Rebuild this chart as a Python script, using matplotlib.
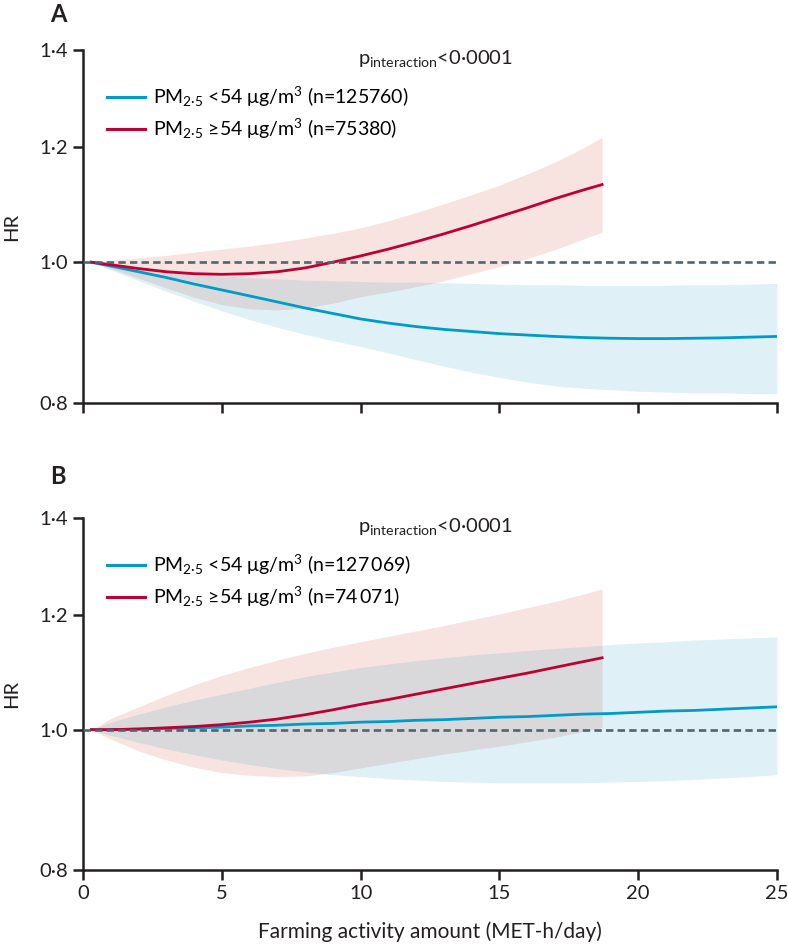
import matplotlib
matplotlib.use("Agg")
import matplotlib.pyplot as plt
import numpy as np

plt.rcParams["font.family"] = ["Lato", "DejaVu Sans"]
plt.rcParams["mathtext.fontset"] = "custom"
plt.rcParams["mathtext.rm"] = "Lato"
plt.rcParams["mathtext.it"] = "Lato:italic"
plt.rcParams["mathtext.bf"] = "Lato:bold"

# ---- data ----
x_low = [0.3, 1, 2, 3, 4, 5, 6, 7, 8, 9, 10, 11, 12, 13, 14, 15, 16, 17, 18,
         19, 20, 21, 22, 23, 24, 25]
x_high = [0.3, 1, 2, 3, 4, 5, 6, 7, 8, 9, 10, 11, 12, 13, 14, 15, 16, 17, 18, 18.7]

# panel A
a_low_hr = [1.000, 0.994, 0.985, 0.976, 0.966, 0.957, 0.948, 0.939, 0.930, 0.922,
            0.914, 0.908, 0.903, 0.899, 0.896, 0.893, 0.891, 0.889, 0.8875, 0.8865,
            0.886, 0.886, 0.8865, 0.887, 0.888, 0.889]
a_low_up = [1.000, 0.998, 0.993, 0.988, 0.983, 0.979, 0.976, 0.974, 0.972, 0.971,
            0.970, 0.969, 0.969, 0.968, 0.967, 0.966, 0.965, 0.965, 0.964, 0.964,
            0.964, 0.964, 0.965, 0.965, 0.966, 0.967]
a_low_lo = [1.000, 0.988, 0.971, 0.955, 0.940, 0.926, 0.913, 0.902, 0.892, 0.883,
            0.875, 0.866, 0.857, 0.848, 0.840, 0.833, 0.827, 0.822, 0.819, 0.817,
            0.815, 0.814, 0.813, 0.813, 0.812, 0.812]
a_high_hr = [1.000, 0.996, 0.990, 0.985, 0.982, 0.981, 0.982, 0.985, 0.991, 1.000,
             1.010, 1.021, 1.033, 1.046, 1.060, 1.075, 1.090, 1.106, 1.121, 1.131]
a_high_up = [1.000, 1.003, 1.007, 1.011, 1.016, 1.021, 1.026, 1.032, 1.039, 1.047,
             1.056, 1.068, 1.082, 1.097, 1.113, 1.130, 1.150, 1.172, 1.198, 1.219]
a_high_lo = [1.000, 0.990, 0.975, 0.960, 0.946, 0.935, 0.929, 0.927, 0.930, 0.937,
             0.947, 0.954, 0.962, 0.971, 0.982, 0.993, 1.006, 1.020, 1.037, 1.049]

# panel B
b_low_hr = [1.000, 1.000, 1.001, 1.002, 1.003, 1.004, 1.006, 1.007, 1.009, 1.010,
            1.012, 1.013, 1.015, 1.016, 1.018, 1.020, 1.021, 1.023, 1.025, 1.026,
            1.028, 1.030, 1.031, 1.033, 1.035, 1.037]
b_low_up = [1.000, 1.012, 1.025, 1.037, 1.048, 1.058, 1.068, 1.078, 1.088, 1.096,
            1.104, 1.110, 1.116, 1.121, 1.126, 1.130, 1.134, 1.138, 1.141, 1.145,
            1.148, 1.150, 1.153, 1.155, 1.157, 1.159]
b_low_lo = [1.000, 0.991, 0.980, 0.970, 0.961, 0.953, 0.946, 0.940, 0.935, 0.931,
            0.928, 0.925, 0.923, 0.921, 0.920, 0.919, 0.919, 0.919, 0.919, 0.920,
            0.921, 0.922, 0.924, 0.926, 0.928, 0.931]
b_high_hr = [1.000, 1.000, 1.001, 1.003, 1.005, 1.008, 1.012, 1.017, 1.024, 1.032,
             1.041, 1.049, 1.058, 1.067, 1.076, 1.085, 1.094, 1.104, 1.114, 1.121]
b_high_up = [1.000, 1.018, 1.037, 1.056, 1.074, 1.090, 1.104, 1.117, 1.129, 1.140,
             1.150, 1.160, 1.170, 1.180, 1.191, 1.202, 1.214, 1.226, 1.240, 1.251]
b_high_lo = [1.000, 0.985, 0.967, 0.953, 0.942, 0.934, 0.930, 0.928, 0.929, 0.934,
             0.941, 0.948, 0.955, 0.962, 0.968, 0.974, 0.981, 0.988, 0.997, 1.004]

low_labels = ["PM$_{\\mathrm{2·5}}$ <54 μg/m$^{\\mathrm{3}}$ (n=125760)",
              "PM$_{\\mathrm{2·5}}$ <54 μg/m$^{\\mathrm{3}}$ (n=127\u2009069)"]
high_labels = ["PM$_{\\mathrm{2·5}}$ ≥54 μg/m$^{\\mathrm{3}}$ (n=75380)",
               "PM$_{\\mathrm{2·5}}$ ≥54 μg/m$^{\\mathrm{3}}$ (n=74\u2009071)"]
p_text = "$\\mathrm{p_{interaction}}$<0·0001"
y_ticks = [0.8, 1.0, 1.2, 1.4]
y_ticklabels = ["0·8", "1·0", "1·2", "1·4"]
x_ticks = [0, 5, 10, 15, 20, 25]

blue = "#009bc8"
red = "#be0032"
ink = "#231f20"

fig = plt.figure(figsize=(7.88, 9.5), dpi=100)
axA = fig.add_axes([0.1053, 0.5758, 0.8807, 0.3716])
axB = fig.add_axes([0.1053, 0.0842, 0.8807, 0.3705])

data = [
    (axA, a_low_hr, a_low_up, a_low_lo, a_high_hr, a_high_up, a_high_lo),
    (axB, b_low_hr, b_low_up, b_low_lo, b_high_hr, b_high_up, b_high_lo),
]

for i, (ax, lhr, lup, llo, hhr, hup, hlo) in enumerate(data):
    ax.fill_between(x_high, hlo, hup, color="#bf2205", alpha=0.12, lw=0, zorder=1)
    ax.fill_between(x_low, llo, lup, color="#058ac5", alpha=0.12, lw=0, zorder=2)
    ax.plot(x_low, lhr, color=blue, lw=2.0, label=low_labels[i], zorder=3)
    ax.plot(x_high, hhr, color=red, lw=2.0, label=high_labels[i], zorder=3)
    ax.plot([0, 25], [1, 1], color="#4f6570", lw=1.9, dashes=(2.8, 1.6), zorder=4)

    ax.set_yscale("log")
    ax.set_ylim(0.8, 1.4)
    ax.set_xlim(0, 25)
    ax.yaxis.set_minor_locator(matplotlib.ticker.NullLocator())
    ax.set_yticks(y_ticks)
    ax.set_yticklabels(y_ticklabels)
    ax.set_xticks(x_ticks)
    if i == 0:
        ax.set_xticklabels([])
    else:
        ax.set_xlabel("Farming activity amount (MET-h/day)", fontsize=15, color=ink, labelpad=14)
    ax.set_ylabel("HR", fontsize=14.5, color=ink)
    ax.yaxis.set_label_coords(-0.09, 0.5)

    for s in ["top", "right"]:
        ax.spines[s].set_visible(False)
    for s in ["left", "bottom"]:
        ax.spines[s].set_linewidth(1.8)
        ax.spines[s].set_color(ink)
    ax.tick_params(direction="out", length=7, width=1.8, color=ink,
                   labelsize=14.5, labelcolor=ink, pad=4)

    leg = ax.legend(loc="upper left", bbox_to_anchor=(0.034, 0.9), frameon=False,
                    fontsize=14, handlelength=2.0, handletextpad=0.4,
                    borderpad=0, borderaxespad=0, labelspacing=0.4)
    for line in leg.get_lines():
        line.set_linewidth(2.2)
    ax.text(0.508, 0.975, p_text, transform=ax.transAxes, ha="center", va="center",
            fontsize=14.5, color=ink)

fig.text(58 / 788, 1 - 14 / 950, "A", fontsize=17, fontweight="bold", ha="center", va="center", color=ink)
fig.text(58 / 788, 1 - 477 / 950, "B", fontsize=17, fontweight="bold", ha="center", va="center", color=ink)

fig.savefig("out.png", dpi=100)
